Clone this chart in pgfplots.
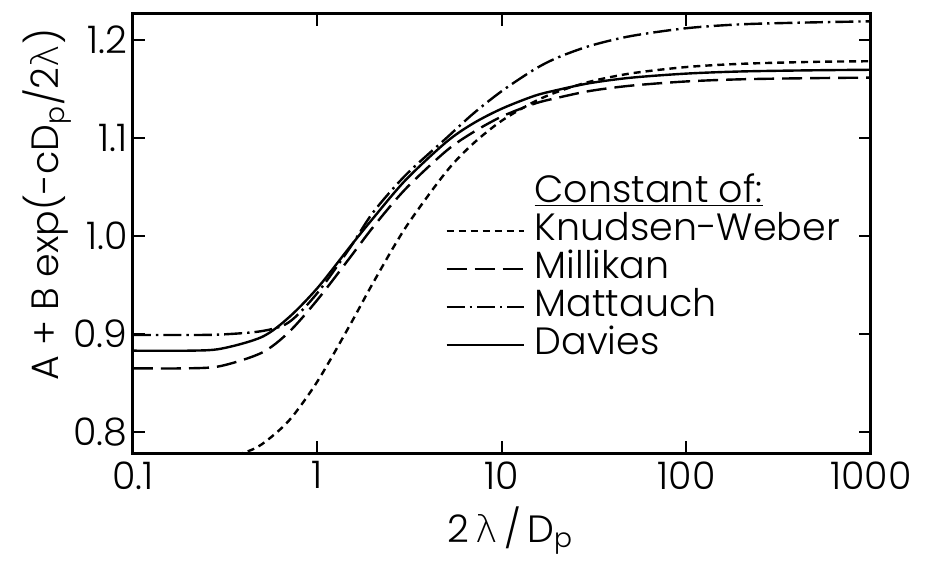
\documentclass[border=0pt]{standalone}
\usepackage{fontspec}
\setmainfont{Poppins}[UprightFont=* Light]
\newfontfamily\greek{DejaVu Sans}[UprightFont=* ExtraLight]
\usepackage{pgfplots}
\pgfplotsset{compat=1.18}
\newcommand{\lam}{{\greek λ}}
\newcommand{\bigfont}{\fontsize{19}{22}\selectfont}

\begin{document}
\begin{tikzpicture}
\begin{axis}[
  scale only axis, width=369pt, height=219.5pt,
  xmode=log, xmin=0.1, xmax=1000, ymin=0.7786, ymax=1.2265,
  xtick={0.1,1,10,100,1000}, xticklabels={0.1,1,10,100,1000},
  ytick={0.8,0.9,1.0,1.1,1.2}, yticklabels={0.8,0.9,1.0,1.1,1.2},
  minor tick length=0pt,
  tick align=inside, major tick length=6pt,
  axis line style={line width=1.5pt},
  every tick/.style={black, line width=1pt},
  /pgf/number format/assume math mode=true,
  xticklabel style={font=\bigfont, inner ysep=4pt},
  yticklabel style={font=\bigfont, inner xsep=2.5pt},
  xlabel={2\,\lam\,/\,D\textsubscript{p}},
  ylabel={A + B exp(-cD\textsubscript{p}/2\lam)},
  label style={font=\bigfont},
  xlabel style={at={(rel axis cs:0.511,-0.203)}, anchor=base},
  ylabel style={at={(rel axis cs:-0.1165,0.565)}, anchor=center},
  legend style={draw=none, fill=none, at={(rel axis cs:0.415,0.64)},
    anchor=north west, font=\bigfont, row sep=2pt, column sep=3pt,
    nodes={inner ysep=0pt, inner xsep=2pt, text height=13pt, text depth=4pt}},
  legend cell align=left,
  legend image code/.code={\draw[#1, line width=1pt] (0pt,0pt) -- (38.5pt,0pt);},
]
\addlegendimage{empty legend}
\addlegendentry{\underline{Constant of:}}

% Knudsen-Weber
\addplot[black, line width=1.2pt, dash pattern=on 3.5pt off 2.5pt, smooth] coordinates {
  (0.2,0.7721) (0.3,0.7738) (0.4,0.779) (0.5,0.7876) (0.7,0.8116)
  (1,0.8518) (1.5,0.9092) (2,0.9521) (3,1.0085) (5,1.0658) (7,1.0945)
  (10,1.1178) (15,1.1371) (20,1.1471) (30,1.1575) (50,1.1659)
  (100,1.1724) (200,1.1757) (500,1.1777) (1000,1.1783)
};
\addlegendentry{Knudsen-Weber}

% Millikan
\addplot[black, line width=1.2pt, dash pattern=on 10pt off 4pt, smooth] coordinates {
  (0.1,0.865) (0.2,0.865) (0.3,0.8674) (0.5,0.881) (0.7,0.902)
  (1,0.935) (1.5,0.978) (2,1.009) (3,1.048) (5,1.087) (7,1.106)
  (10,1.122) (15,1.135) (20,1.141) (30,1.148) (50,1.1534)
  (100,1.1577) (200,1.1599) (500,1.1611) (1000,1.1616)
};
\addlegendentry{Millikan}

% Mattauch
\addplot[black, line width=1.2pt, dash pattern=on 9pt off 2.5pt on 1.2pt off 2.5pt, smooth] coordinates {
  (0.1,0.899) (0.2,0.899) (0.3,0.8995) (0.5,0.903) (0.7,0.912)
  (1,0.942) (1.5,0.988) (2,1.024) (3,1.062) (5,1.100) (7,1.125)
  (10,1.148) (15,1.170) (20,1.182) (30,1.194) (50,1.204)
  (100,1.212) (200,1.216) (500,1.218) (1000,1.219)
};
\addlegendentry{Mattauch}

% Davies
\addplot[black, line width=1.2pt, solid, smooth] coordinates {
  (0.1,0.883) (0.2,0.883) (0.3,0.885) (0.5,0.897) (0.7,0.917)
  (1,0.947) (1.5,0.989) (2,1.018) (3,1.057) (5,1.096) (7,1.115)
  (10,1.130) (15,1.143) (20,1.149) (30,1.156) (50,1.1615)
  (100,1.1657) (200,1.1679) (500,1.1691) (1000,1.1696)
};
\addlegendentry{Davies}
\end{axis}
\pgfresetboundingbox
\path (current axis.south west) ++(-66.5pt,-55pt) rectangle ++(465.5pt,281.5pt);
\end{tikzpicture}
\end{document}
